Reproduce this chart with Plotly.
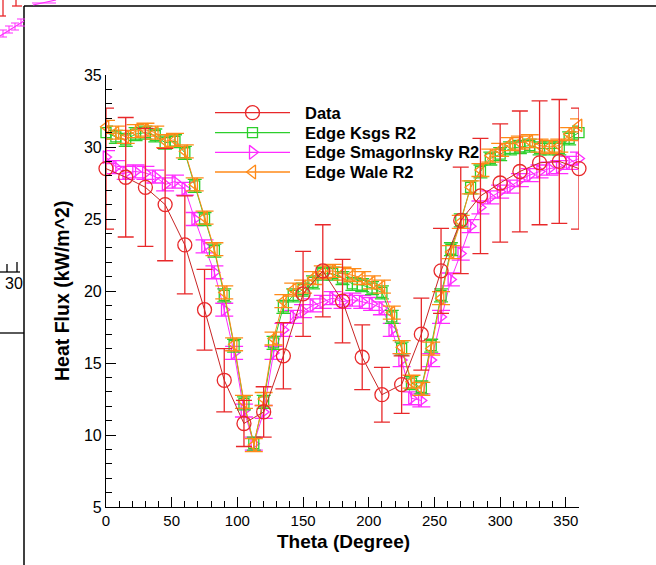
import plotly.graph_objects as go

# ---- measured heat flux (every 15 degrees) ----
theta_data = [0, 15, 30, 45, 60, 75, 90, 105, 120, 135, 150, 165, 180,
              195, 210, 225, 240, 255, 270, 285, 300, 315, 330, 345, 360]
flux_data = [28.5, 27.9, 27.2, 26.0, 23.2, 18.7, 13.8, 10.8, 11.6, 15.5, 19.8, 21.4, 19.3,
             15.4, 12.8, 13.5, 17.0, 21.4, 24.9, 26.6, 27.5, 28.3, 28.9, 29.0, 28.5]
err_data = [4.2, 4.15, 4.1, 3.9, 3.4, 2.8, 2.2, 1.6, 1.75, 2.3, 2.95, 3.2, 2.9,
            2.25, 1.9, 2.0, 2.5, 2.95, 3.7, 4.0, 4.1, 4.2, 4.3, 4.3, 4.2]

# ---- LES results (every 7.5 degrees) ----
theta_les = [0, 7.5, 15, 22.5, 30, 37.5, 45, 52.5, 60, 67.5, 75, 82.5, 90,
             97.5, 105, 112.5, 120, 127.5, 135, 142.5, 150, 157.5, 165, 172.5, 180,
             187.5, 195, 202.5, 210, 217.5, 225, 232.5, 240, 247.5, 255, 262.5, 270,
             277.5, 285, 292.5, 300, 307.5, 315, 322.5, 330, 337.5, 345, 352.5, 360]
flux_ksgs = [31.0, 30.7, 30.5, 30.9, 31.0, 30.8, 30.3, 30.4, 29.6, 27.3, 25.0, 22.8, 19.7,
             16.2, 12.2, 9.4, 12.3, 16.4, 18.9, 19.7, 20.1, 20.6, 21.2, 21.2, 20.9,
             20.5, 20.4, 20.2, 19.9, 18.2, 16.0, 13.6, 13.3, 16.2, 19.7, 22.9, 24.9,
             27.2, 28.3, 29.2, 29.5, 29.9, 30.0, 30.1, 29.9, 29.9, 29.9, 30.6, 31.0]
flux_smag = [29.3, 28.6, 28.2, 28.3, 28.2, 27.95, 27.4, 27.6, 27.1, 25.0, 23.1, 21.3, 18.7,
             15.7, 11.7, 9.4, 11.6, 15.7, 17.3, 18.2, 18.6, 19.0, 19.25, 19.5, 19.25,
             19.4, 19.25, 19.1, 18.8, 17.3, 15.2, 12.55, 12.4, 15.2, 18.2, 20.8, 22.6,
             24.5, 25.8, 26.5, 26.9, 27.25, 27.7, 28.05, 28.3, 28.5, 28.6, 28.9, 29.2]
flux_wale = [31.4, 31.0, 30.7, 31.1, 31.2, 31.0, 30.4, 30.5, 29.7, 27.4, 25.1, 22.9, 19.9,
             16.3, 12.3, 9.3, 12.5, 16.7, 19.3, 20.1, 20.3, 20.9, 21.3, 21.4, 21.2,
             21.1, 20.9, 20.6, 20.3, 18.5, 16.1, 13.7, 13.2, 16.0, 19.5, 22.7, 24.8,
             27.2, 28.4, 29.4, 29.8, 30.2, 30.3, 30.4, 30.1, 30.0, 30.1, 30.9, 31.5]
les_err = 0.45

series_names = ["Data", "Edge Ksgs R2", "Edge SmagorInsky R2", "Edge Wale R2"]
x_ticks = [0, 50, 100, 150, 200, 250, 300, 350]
y_ticks = [5, 10, 15, 20, 25, 30, 35]

RED, GREEN, MAGENTA, ORANGE = "#e8282a", "#2ccf2c", "#ff2cff", "#ff8a18"
FONT = "Liberation Sans, Arial, sans-serif"

# page geometry (px)
W, H = 656, 565
ML, MR, MT, MB = 106, 77, 75, 58
PW, PH = W - ML - MR, H - MT - MB


def px(X):
    return (X - ML) / PW


def py(Y):
    return (H - MB - Y) / PH


fig = go.Figure()


def les_trace(y, name, color, symbol, size, capw):
    return go.Scatter(
        x=theta_les, y=y, name=name, mode="lines+markers",
        line=dict(color=color, width=1),
        marker=dict(symbol=symbol, size=size, color=color, line=dict(color=color, width=1.3)),
        error_y=dict(type="constant", value=les_err, color=color, thickness=1.3, width=capw),
        cliponaxis=False, showlegend=False)


fig.add_trace(les_trace(flux_smag, series_names[2], MAGENTA, "triangle-right-open", 11, 9))
fig.add_trace(les_trace(flux_ksgs, series_names[1], GREEN, "square-open", 10, 7))
fig.add_trace(les_trace(flux_wale, series_names[3], ORANGE, "triangle-left-open", 11, 9))

fig.add_trace(go.Scatter(
    x=theta_data, y=flux_data, name=series_names[0], mode="lines+markers",
    line=dict(color="#c82424", width=1),
    marker=dict(symbol="circle-open", size=14, color=RED, line=dict(color=RED, width=1.3)),
    error_y=dict(type="data", array=err_data, color=RED, thickness=1.3, width=8),
    cliponaxis=False, showlegend=False))

# ---- legend keys, drawn on a pixel-scaled overlay axis ----
leg_rows = [112.7, 132.7, 152.3, 172.0]
leg_x0, leg_x1, leg_xm, leg_tx = 215, 290, 252.5, 303
leg_style = [(RED, "circle-open", 14), (GREEN, "square-open", 10),
             (MAGENTA, "triangle-right-open", 12), (ORANGE, "triangle-left-open", 12)]
for name, yrow, (col, sym, sz) in zip(series_names, leg_rows, leg_style):
    fig.add_trace(go.Scatter(x=[leg_x0, leg_x1], y=[yrow, yrow], mode="lines",
                             line=dict(color=col, width=1.3), xaxis="x2", yaxis="y2",
                             showlegend=False, hoverinfo="skip"))
    fig.add_trace(go.Scatter(x=[leg_xm], y=[yrow], mode="markers",
                             marker=dict(symbol=sym, size=sz, color=col, line=dict(color=col, width=1.3)),
                             xaxis="x2", yaxis="y2", showlegend=False, hoverinfo="skip"))
    fig.add_annotation(x=leg_tx, y=yrow, xref="x2", yref="y2", text="<b>%s</b>" % name,
                       showarrow=False, xanchor="left", yanchor="middle",
                       font=dict(family=FONT, size=16.5, color="black"))

axis_common = dict(showline=True, linecolor="black", linewidth=1.2, mirror=False,
                   showgrid=False, zeroline=False, ticks="inside", ticklen=10,
                   tickwidth=1.2, tickcolor="black")

fig.update_layout(
    width=W, height=H, margin=dict(l=ML, r=MR, t=MT, b=MB),
    paper_bgcolor="white", plot_bgcolor="white",
    xaxis=dict(range=[0, 360], tickvals=x_ticks,
               tickfont=dict(family=FONT, size=15, color="black"),
               minor=dict(dtick=10, ticks="inside", ticklen=6, tickwidth=1.2, tickcolor="black"),
               **axis_common),
    yaxis=dict(range=[5, 35], tickvals=y_ticks,
               tickfont=dict(family=FONT, size=16, color="black"),
               minor=dict(dtick=1, ticks="inside", ticklen=6, tickwidth=1.2, tickcolor="black"),
               **axis_common),
    xaxis2=dict(range=[ML, W - MR], overlaying="x", anchor="y2", visible=False, fixedrange=True),
    yaxis2=dict(range=[H - MB, MT], overlaying="y", anchor="x2", visible=False, fixedrange=True),
)

# axis titles
fig.add_annotation(x=px(343), y=py(541), xref="paper", yref="paper",
                   xanchor="center", yanchor="middle",
                   text="<b>Theta (Degree)</b>", showarrow=False,
                   font=dict(family=FONT, size=19, color="black"))
fig.add_annotation(x=px(62), y=py(291), xref="paper", yref="paper",
                   xanchor="center", yanchor="middle",
                   text="<b>Heat Flux (kW/m^2)</b>", showarrow=False, textangle=-90,
                   font=dict(family=FONT, size=19.5, color="black"))

# ---- window frame and the partly hidden frame behind it ----
def seg(x0, y0, x1, y1, color="black", width=1.3):
    fig.add_shape(type="line", xref="paper", yref="paper",
                  x0=px(x0), y0=py(y0), x1=px(x1), y1=py(y1),
                  line=dict(color=color, width=width))


seg(24, 6, W, 6, width=1.5)
seg(24, 6, 24, H, width=1.5)
seg(0, 333, 24, 333)
seg(0, 272, 20, 272)
seg(7, 264, 7, 272)
seg(17, 262, 17, 272)
fig.add_annotation(x=px(14), y=py(283), xref="paper", yref="paper", text="30",
                   xanchor="center", yanchor="middle",
                   showarrow=False, font=dict(family=FONT, size=16, color="black"))
# red error-bar pieces
seg(3, 0, 3, 16, color=RED)
seg(0, 16, 6, 16, color=RED)
seg(12, 6, 22, 6, color=RED)
seg(16, 0, 16, 6, color=RED)
# magenta curve pieces
seg(0, 36, 24, 21, color=MAGENTA, width=1.2)
for xc, yc in [(3, 34), (9, 30), (15, 27), (21, 23)]:
    seg(xc - 4, yc - 4, xc + 4, yc - 4, color=MAGENTA, width=1)
    seg(xc - 4, yc + 3, xc + 4, yc + 3, color=MAGENTA, width=1)
    seg(xc, yc - 4, xc, yc + 3, color=MAGENTA, width=1)
seg(33, 5, 56, 0, color=MAGENTA, width=1.2)
for xc in [36, 44, 52]:
    seg(xc - 4, 3, xc + 4, 3, color=MAGENTA, width=1)

fig.write_html("out.html")
